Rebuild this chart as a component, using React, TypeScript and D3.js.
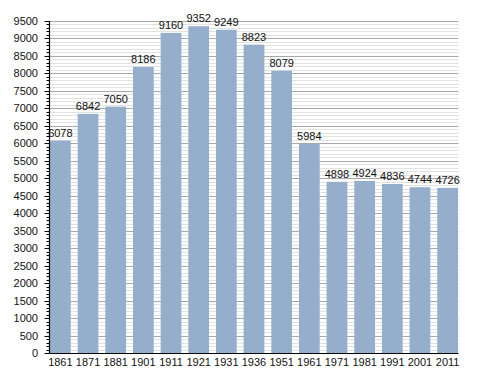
import React from "react";
import * as d3 from "d3";

const years = ["1861","1871","1881","1901","1911","1921","1931","1936","1951","1961","1971","1981","1991","2001","2011"];
const population = [6078,6842,7050,8186,9160,9352,9249,8823,8079,5984,4898,4924,4836,4744,4726];
const yMajorTicks = d3.range(0, 9501, 500);
const yMinorTicks = d3.range(0, 9501, 100);

export default function App() {
  const W = 488, H = 373;
  const left = 49.5, right = 458.5, top = 21, bottom = 353;
  const x = d3.scaleBand<string>().domain(years).range([left + 0.5, right - 0.5]).paddingInner(0.25).paddingOuter(0);
  const y = d3.scaleLinear().domain([0, 9500]).range([bottom, top]);
  const font = "Liberation Sans, Arial, sans-serif";
  return (
    <svg width={W} height={H} style={{ position: "absolute", left: 0, top: 0 }}>
      <rect width={W} height={H} fill="#fff" />
      {yMinorTicks.filter(v => v % 500 !== 0).map(v => (
        <line key={"m" + v} x1={left} x2={right} y1={Math.round(y(v)) + 0.5} y2={Math.round(y(v)) + 0.5} stroke="#e2e2e2" strokeWidth={1} />
      ))}
      {yMajorTicks.filter(v => v !== 0).map(v => (
        <line key={"M" + v} x1={left} x2={right} y1={Math.round(y(v)) + 0.5} y2={Math.round(y(v)) + 0.5} stroke="#a8a8a8" strokeWidth={1} />
      ))}
      {years.map((yr, i) => (
        <rect key={yr} x={x(yr)} y={y(population[i])} width={x.bandwidth()} height={bottom - y(population[i])} fill="#95aecb" />
      ))}
      {years.map((yr, i) => (
        <text key={"v" + yr} x={(x(yr) as number) + x.bandwidth() / 2} y={y(population[i]) - 4} textAnchor="middle" fontFamily={font} fontSize={11} fill="#111">{population[i]}</text>
      ))}
      {yMinorTicks.map(v => (
        <line key={"t" + v} x1={v % 500 === 0 ? left - 5 : left - 3} x2={left} y1={Math.round(y(v)) + 0.5} y2={Math.round(y(v)) + 0.5} stroke="#000" strokeWidth={1} />
      ))}
      <line x1={left} x2={left} y1={top} y2={bottom + 0.5} stroke="#000" strokeWidth={1.2} />
      <line x1={left} x2={right} y1={bottom + 0.5} y2={bottom + 0.5} stroke="#000" strokeWidth={1.2} />
      {yMajorTicks.map(v => (
        <text key={"l" + v} x={38} y={y(v) + 4} textAnchor="end" fontFamily={font} fontSize={11} fill="#111">{v}</text>
      ))}
      {years.map(yr => (
        <text key={"x" + yr} x={(x(yr) as number) + x.bandwidth() / 2} y={366} textAnchor="middle" fontFamily={font} fontSize={11} fill="#111">{yr}</text>
      ))}
    </svg>
  );
}
